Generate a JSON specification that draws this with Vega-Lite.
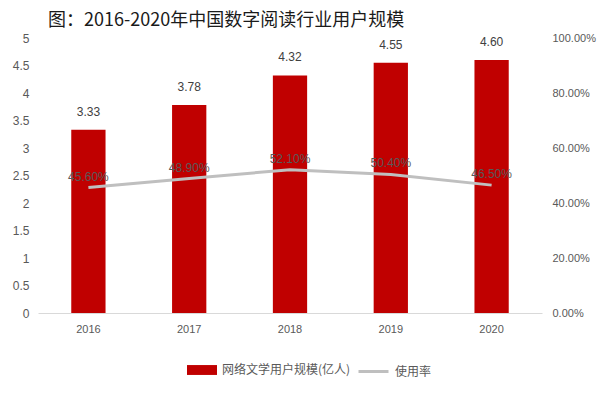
{
  "$schema": "https://vega.github.io/schema/vega-lite/v6.json",
  "width": 600,
  "height": 400,
  "autosize": {"type": "fit", "contains": "padding"},
  "padding": {"left": 12, "right": 4, "top": 12, "bottom": 66},
  "background": "white",
  "title": {
    "text": "图：2016-2020年中国数字阅读行业用户规模",
    "anchor": "start",
    "frame": "group",
    "offset": 2,
    "dx": 10,
    "fontSize": 18,
    "fontWeight": "normal",
    "font": "Noto Sans CJK SC",
    "color": "#1a1a1a"
  },
  "config": {
    "view": {"stroke": null},
    "font": "Liberation Sans",
    "axis": {"grid": false, "ticks": false, "labelColor": "#595959", "labelFontSize": 11, "title": null},
    "legend": {"labelFont": "Noto Sans CJK SC", "labelFontSize": 12, "labelColor": "#595959", "title": null}
  },
  "data": {
    "values": [
      {"year": "2016", "users": 3.33, "rate": 0.456, "rateLabel": "45.60%"},
      {"year": "2017", "users": 3.78, "rate": 0.489, "rateLabel": "48.90%"},
      {"year": "2018", "users": 4.32, "rate": 0.521, "rateLabel": "52.10%"},
      {"year": "2019", "users": 4.55, "rate": 0.504, "rateLabel": "50.40%"},
      {"year": "2020", "users": 4.60, "rate": 0.465, "rateLabel": "46.50%"}
    ]
  },
  "encoding": {
    "x": {
      "field": "year", "type": "nominal",
      "scale": {"paddingInner": 0.66, "paddingOuter": 0.33},
      "axis": {"labelAngle": 0, "domainColor": "#d9d9d9", "labelPadding": 10, "labelFontSize": 11}
    }
  },
  "layer": [
    {
      "encoding": {
        "y": {"field": "users", "type": "quantitative",
          "scale": {"domain": [0, 5]},
          "axis": {"values": [0,0.5,1,1.5,2,2.5,3,3.5,4,4.5,5], "format": "~g", "labelOverlap": false, "domain": false, "labelPadding": 9, "labelFontSize": 12}}
      },
      "layer": [
        {
          "mark": {"type": "bar", "color": "#c00000"},
          "encoding": {
            "fill": {"datum": "网络文学用户规模(亿人)", "type": "nominal",
              "scale": {"range": ["#c00000"]},
              "legend": {"orient": "none", "legendX": 149, "legendY": 317, "symbolType": "M-1,-0.33H1V0.33H-1Z", "symbolSize": 900, "symbolStrokeWidth": 0, "labelOffset": 5}}
          }
        },
        {
          "mark": {"type": "text", "dy": -18, "fontSize": 12, "color": "#404040", "font": "Liberation Sans"},
          "encoding": {
            "text": {"field": "users", "type": "quantitative", "format": ".2f"}
          }
        }
      ]
    },
    {
      "encoding": {
        "y": {"field": "rate", "type": "quantitative",
          "scale": {"domain": [0, 1]},
          "axis": {"orient": "right", "format": ".2%", "values": [0,0.2,0.4,0.6,0.8,1], "domain": false, "labelPadding": 10}}
      },
      "layer": [
        {
          "mark": {"type": "line", "strokeWidth": 3, "color": "#bfbfbf"},
          "encoding": {
            "stroke": {"datum": "使用率", "type": "nominal",
              "scale": {"range": ["#bfbfbf"]},
              "legend": {"orient": "none", "legendX": 319, "legendY": 317, "symbolType": "stroke", "symbolSize": 900, "symbolStrokeWidth": 3, "labelOffset": 5}}
          }
        },
        {
          "mark": {"type": "text", "dy": -11, "fontSize": 12, "color": "#595959", "font": "Liberation Sans"},
          "encoding": {
            "text": {"field": "rateLabel"}
          }
        }
      ]
    }
  ],
  "resolve": {"scale": {"y": "independent", "fill": "independent", "stroke": "independent"}}
}
